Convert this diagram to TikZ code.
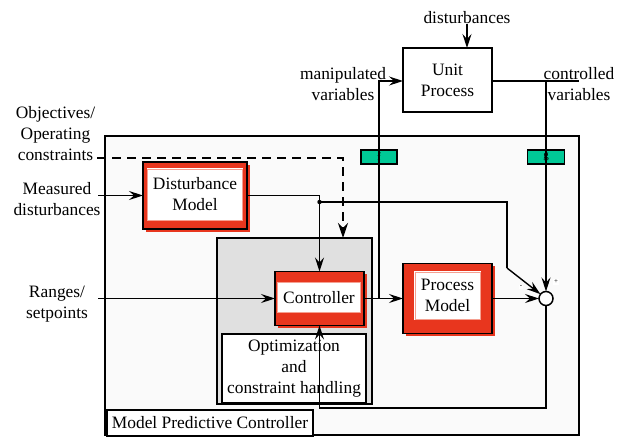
\documentclass[tikz,border=0pt]{standalone}
\usepackage{fontspec}
\setmainfont{Liberation Serif}
\usetikzlibrary{arrows.meta,calc,shadows}
\definecolor{mpcred}{RGB}{232,54,30}
\definecolor{mpcgreen}{RGB}{0,200,150}
\definecolor{panelgray}{RGB}{224,224,224}
\definecolor{framefill}{RGB}{250,250,250}
\definecolor{innerline}{RGB}{245,160,145}
\begin{document}
\begin{tikzpicture}[x=1pt,y=-1pt,
  font=\fontsize{17.4}{21}\selectfont,
  every node/.style={inner sep=0pt, outer sep=0pt},
  frame/.style={draw=black, line width=1.3pt, fill=framefill},
  plainbox/.style={draw=black, line width=1.6pt, fill=white, align=center},
  graybox/.style={draw=black, line width=2pt, fill=panelgray},
  redbox/.style={draw=black, line width=1.8pt, fill=mpcred,
    drop shadow={shadow xshift=2.5pt, shadow yshift=-2.5pt, fill=mpcred, opacity=1}},
  innerbox/.style={fill=white, draw=innerline, line width=0.7pt, align=center,
    preaction={draw=white, line width=1.8pt}},
  tagbox/.style={draw=black, line width=1.4pt, fill=mpcgreen,
    font=\fontsize{11}{12}\selectfont},
  txt/.style={align=center},
  sign/.style={font=\fontsize{7}{8}\selectfont, fill=white, inner sep=1pt},
  conn/.style={line width=1.4pt},
  arr/.style={conn, -{Stealth[length=14pt,width=9pt,inset=5pt]}},
  dasharr/.style={line width=2.4pt, dash pattern=on 9pt off 6pt,
    -{Stealth[length=15pt,width=10pt,inset=5pt]}}
]
\useasboundingbox (0,0) rectangle (623,437);

% controller frame and its caption
\node[frame, minimum width=474pt, minimum height=299pt] (mpc) at (342,285.5) {};
\node[plainbox, minimum width=206pt, minimum height=26pt, anchor=north west]
  (mpclabel) at (107,410) {Model Predictive Controller};

% plant
\node[plainbox, minimum width=89pt, minimum height=64pt] (up) at (447.5,80) {Unit\\Process};

% gray panel with optimiser
\node[graybox, minimum width=155pt, minimum height=166pt] (gray) at (294.5,321) {};
\node[plainbox, minimum width=144pt, minimum height=69pt] (opt) at (294,368.5)
  {Optimization\\and\\constraint handling};

% red model blocks
\node[redbox, minimum width=104pt, minimum height=67pt] (dm) at (195,195.5) {};
\node[innerbox, minimum width=95pt, minimum height=51pt] (dmt) at (195,194.5) {Disturbance\\Model};
\node[redbox, minimum width=89pt, minimum height=54pt] (ctrl) at (319.5,298.5) {};
\node[innerbox, minimum width=83pt, minimum height=30pt] (ctrlt) at (319,297.5) {Controller};
\node[redbox, minimum width=89pt, minimum height=70pt] (pm) at (447.5,298.5) {};
\node[innerbox, minimum width=65pt, minimum height=47pt] (pmt) at (447.5,295.5) {Process\\Model};

% summing junction
\node[circle, draw=black, line width=1.5pt, fill=white, minimum size=14pt] (sum) at (546,298.5) {};
\node[sign] (minus) at (521,287) {-};
\node[sign] (plus) at (556,282) {+};

% measurement tags
\node[tagbox, minimum width=36pt, minimum height=14pt] (f) at (379,157) {f};
\node[tagbox, minimum width=37pt, minimum height=14pt] (g) at (546,157) {g};

% outside labels
\node[txt] (dist) at (467,18) {disturbances};
\node[txt] (mv) at (343,84) {manipulated\\variables};
\node[txt] (cv) at (579,84) {controlled\\variables};
\node[txt] (obj) at (55.5,134) {Objectives/\\Operating\\constraints};
\node[txt] (md) at (57,199) {Measured\\disturbances};
\node[txt] (rs) at (57,304) {Ranges/\\setpoints};

% junction points and free ends
\coordinate (objend) at (97,158);
\coordinate (dashdrop) at (343,238);
\coordinate (mdend) at (98,195.5);
\coordinate (rsend) at (98,298.5);
\coordinate (jd) at (319.5,202);
\coordinate (bend) at (507,268);
\coordinate (jm) at (379,298.5);
\coordinate (cvend) at (579,81);
\coordinate (fb) at (319.5,408);

% connectors
\draw[arr] (dist.south) -- (dist.south |- up.north);
\draw[arr] (jm) |- ($(up.west)+(0,1)$);
\draw[conn] ($(up.east)+(0,1)$) -- (cvend);
\draw[arr] (cvend -| sum.north) -- (sum.north);
\draw[dasharr] (objend) -| (dashdrop);
\draw[arr] (mdend) -- (dm.west);
\draw[arr] (dm.east) -| (ctrl.north);
\fill (jd) circle (2.2pt);
\draw[conn] (jd) -| (bend);
\draw[arr] (bend) -- (sum);
\draw[arr] (rsend) -- (ctrl.west);
\draw[arr] (ctrl.east) -- (pm.west);
\draw[arr] (pm.east) -- (sum.west);
\draw[arr] (sum.south) |- (fb) -- (ctrl.south);
\end{tikzpicture}
\end{document}
